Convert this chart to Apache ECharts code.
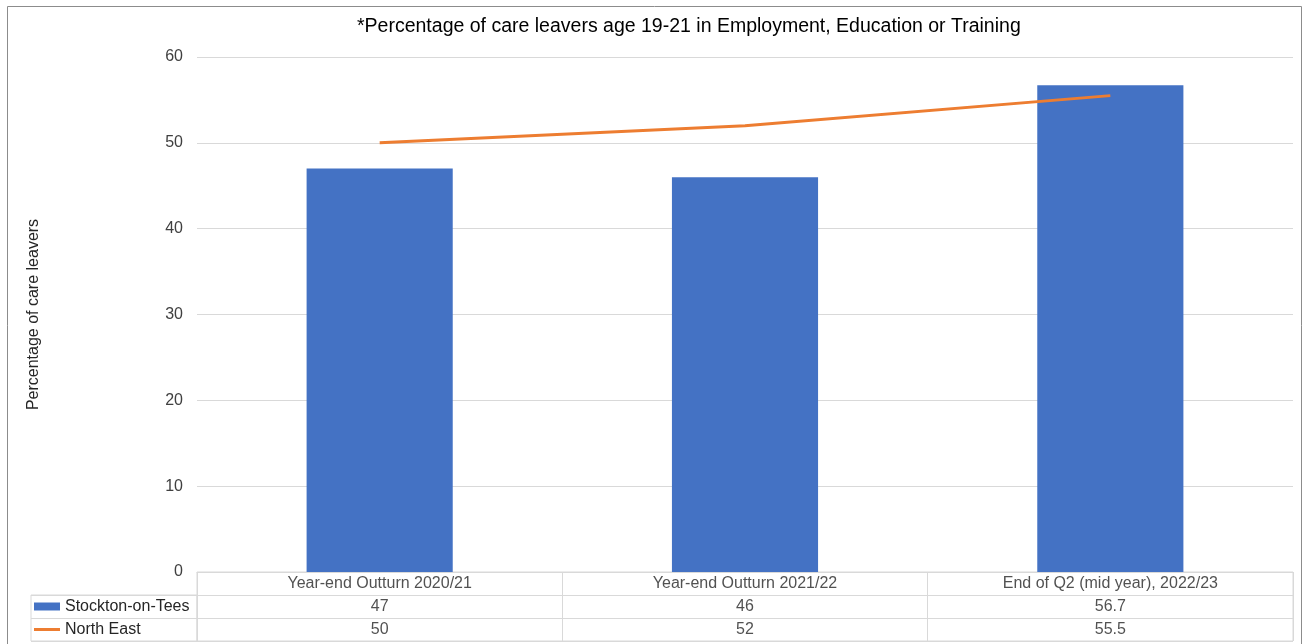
<!DOCTYPE html>
<html>
<head>
<meta charset="utf-8">
<script src="https://cdn.jsdelivr.net/npm/echarts@6/dist/echarts.min.js"></script>
<style>
html,body{margin:0;padding:0;background:#fff;}
#chart{width:1308px;height:644px;}
</style>
</head>
<body>
<div id="chart"></div>
<script>
var titleText = '*Percentage of care leavers age 19-21 in Employment, Education or Training';
var yAxisName = 'Percentage of care leavers';
var categories = ['Year-end Outturn 2020/21', 'Year-end Outturn 2021/22', 'End of Q2 (mid year), 2022/23'];
var seriesNames = ['Stockton-on-Tees', 'North East'];
var stocktonValues = [47, 46, 56.7];
var northEastValues = [50, 52, 55.5];
var yTicks = { min: 0, max: 60, interval: 10 };

var FONT = 'Liberation Sans, Arial, sans-serif';
var GRID_LINE = '#d9d9d9';
var TEXT = '#262626';

// table cells built from the data arrays
var tableRows = ['', seriesNames[0], seriesNames[1]];
var tableData = [];
stocktonValues.forEach(function (v, i) { tableData.push({ value: [i, 1], text: String(v) }); });
northEastValues.forEach(function (v, i) { tableData.push({ value: [i, 2], text: String(v) }); });

var chart = echarts.init(document.getElementById('chart'));
chart.setOption({
  animation: false,
  backgroundColor: '#fff',
  textStyle: { fontFamily: FONT },
  title: {
    text: titleText,
    left: 352,
    top: 12,
    textStyle: { fontSize: 19.5, fontWeight: 'normal', color: '#000', fontFamily: FONT }
  },
  graphic: [{
    type: 'rect',
    shape: { x: 7.5, y: 6.5, width: 1294, height: 700 },
    style: { fill: 'none', stroke: '#8c8c8c', lineWidth: 1 },
    silent: true
  }],
  legend: {
    orient: 'vertical',
    left: 34,
    top: 595,
    padding: 0,
    itemGap: 0,
    itemWidth: 26,
    itemHeight: 8,
    textStyle: { fontSize: 16, lineHeight: 23, color: TEXT, fontFamily: FONT },
    data: [
      { name: seriesNames[0], icon: 'rect' },
      { name: seriesNames[1], icon: 'path://M0,0H26V3H0Z' }
    ]
  },
  grid: [
    { left: 197, right: 15, top: 57, bottom: 72 },
    { left: 197, right: 15, top: 572, bottom: 3, show: true, borderColor: GRID_LINE, borderWidth: 1 },
    { left: 31, width: 166, top: 595, bottom: 3, show: true, borderColor: GRID_LINE, borderWidth: 1 }
  ],
  xAxis: [
    {
      type: 'category', gridIndex: 0, data: categories,
      axisLine: { show: true, lineStyle: { color: GRID_LINE } },
      axisTick: { show: false },
      axisLabel: { show: false }
    },
    {
      type: 'category', gridIndex: 1, data: categories,
      axisLine: { show: false }, axisTick: { show: false }, axisLabel: { show: false },
      splitLine: { show: true, interval: 0, lineStyle: { color: GRID_LINE } }
    },
    {
      type: 'category', gridIndex: 2, data: [''],
      axisLine: { show: false }, axisTick: { show: false }, axisLabel: { show: false },
      splitLine: { show: false }
    }
  ],
  yAxis: [
    {
      type: 'value', gridIndex: 0, min: yTicks.min, max: yTicks.max, interval: yTicks.interval,
      name: yAxisName, nameLocation: 'middle', nameGap: 155,
      nameTextStyle: { fontSize: 16, color: TEXT, fontFamily: FONT },
      axisLine: { show: false }, axisTick: { show: false },
      axisLabel: { fontSize: 16, color: '#404040', margin: 14, fontFamily: FONT },
      splitLine: { show: true, lineStyle: { color: GRID_LINE } }
    },
    {
      type: 'category', gridIndex: 1, data: tableRows, inverse: true,
      axisLine: { show: false }, axisTick: { show: false }, axisLabel: { show: false },
      splitLine: { show: true, interval: 0, lineStyle: { color: GRID_LINE } }
    },
    {
      type: 'category', gridIndex: 2, data: seriesNames, inverse: true,
      axisLine: { show: false }, axisTick: { show: false }, axisLabel: { show: false },
      splitLine: { show: true, interval: 0, lineStyle: { color: GRID_LINE } }
    }
  ],
  series: [
    {
      name: seriesNames[0], type: 'bar', xAxisIndex: 0, yAxisIndex: 0,
      data: stocktonValues, barWidth: '40%',
      itemStyle: { color: '#4472C4' }
    },
    {
      name: seriesNames[1], type: 'line', xAxisIndex: 0, yAxisIndex: 0,
      data: northEastValues, symbol: 'none', showSymbol: false,
      lineStyle: { color: '#ED7D31', width: 3 },
      itemStyle: { color: '#ED7D31' }
    },
    {
      name: 'headerCells', type: 'scatter', xAxisIndex: 1, yAxisIndex: 1,
      symbolSize: 1, itemStyle: { color: 'rgba(0,0,0,0)' }, silent: true,
      data: categories.map(function (c, i) { return { value: [i, 0], text: c }; }),
      label: {
        show: true, position: 'inside', fontSize: 16, color: TEXT, fontFamily: FONT,
        formatter: function (p) { return p.data.text; }
      }
    },
    {
      name: 'valueCells', type: 'scatter', xAxisIndex: 1, yAxisIndex: 1,
      symbolSize: 1, itemStyle: { color: 'rgba(0,0,0,0)' }, silent: true,
      data: tableData,
      label: {
        show: true, position: 'inside', fontSize: 16, color: TEXT, fontFamily: FONT,
        formatter: function (p) { return p.data.text; }
      }
    }
  ]
});
</script>
</body>
</html>
